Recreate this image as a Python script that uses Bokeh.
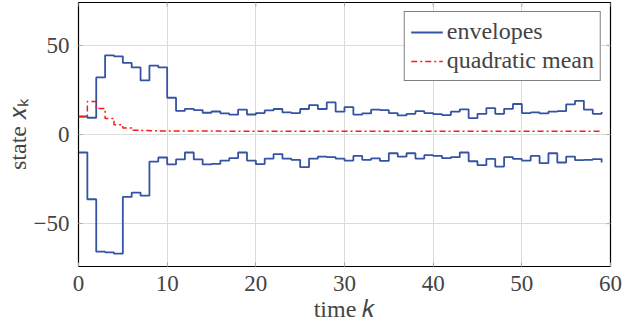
import math
from bokeh.plotting import figure
from bokeh.models import Range1d, FixedTicker, Legend, LegendItem, Title
from bokeh.embed import file_html
from bokeh.resources import INLINE

time_k = list(range(60))
upper = [10.1, 9.4, 32.0, 44.4, 43.8, 40.1, 37.6, 30.3, 38.6, 37.6,
         20.6, 13.3, 14.4, 13.7, 12.2, 12.9, 11.8, 11.1, 13.9, 11.2,
         12.0, 13.5, 14.3, 12.4, 12.0, 14.3, 16.5, 14.3, 18.0, 12.8,
         15.4, 11.1, 11.8, 13.9, 13.7, 12.0, 10.7, 11.6, 13.1, 12.0,
         11.4, 10.9, 12.8, 14.1, 9.2, 11.6, 14.8, 11.6, 14.4, 17.1,
         12.0, 12.4, 11.8, 12.8, 13.1, 16.9, 18.9, 13.9, 11.6, 12.6]
lower = [-10.1, -36.3, -65.7, -66.1, -66.8, -35.0, -32.6, -34.3, -15.2, -12.9,
         -16.8, -14.0, -10.1, -14.0, -16.8, -16.5, -14.6, -13.3, -10.1, -14.6,
         -16.6, -13.5, -11.0, -13.5, -14.2, -18.3, -13.5, -12.4, -12.7, -13.5,
         -14.6, -12.0, -14.2, -13.4, -14.8, -10.5, -12.4, -10.5, -13.5, -11.6,
         -12.0, -13.3, -12.7, -10.1, -15.0, -17.2, -13.7, -18.0, -12.7, -13.7,
         -14.6, -12.0, -16.1, -10.5, -15.7, -12.4, -14.4, -14.2, -13.8, -15.7]
quad_mean = [10.0, 18.5, 14.6, 9.0, 5.5, 3.6, 2.4, 2.2, 2.1, 2.0,
             1.9, 1.9, 1.9, 1.9, 1.9, 1.9, 1.8, 1.8, 1.8, 1.8,
             1.8, 1.8, 1.8, 1.8, 1.8, 1.8, 1.8, 1.8, 1.8, 1.8,
             1.8, 1.8, 1.8, 1.8, 1.8, 1.8, 1.8, 1.8, 1.8, 1.8,
             1.8, 1.8, 1.8, 1.8, 1.8, 1.8, 1.8, 1.8, 1.8, 1.8,
             1.8, 1.8, 1.8, 1.8, 1.8, 1.8, 1.8, 1.8, 1.8, 1.8]
x_ticks = [0, 10, 20, 30, 40, 50, 60]
y_ticks = [-50, 0, 50]
y_tick_labels = {-50: "\u221250", 0: "0", 50: "50"}
x_title = "time \U0001D458"
y_title = "state \U0001D465\u2096"
X_MIN, X_MAX, Y_MIN, Y_MAX = 0, 60, -74, 74

SERIF = "Liberation Serif"
BLUE = "#3552a3"
RED = "#ff1a1a"
TICK = "#aaaaaa"

p = figure(width=623, height=328, output_backend="svg", toolbar_location=None,
           x_range=Range1d(X_MIN, X_MAX), y_range=Range1d(Y_MIN, Y_MAX),
           min_border_left=78, min_border_right=13, min_border_top=2, min_border_bottom=62)
p.outline_line_color = "black"
p.outline_line_width = 1.2

p.xaxis.ticker = FixedTicker(ticks=x_ticks)
p.yaxis.ticker = FixedTicker(ticks=y_ticks)
p.yaxis.major_label_overrides = y_tick_labels
p.xaxis.major_label_text_font = SERIF
p.yaxis.major_label_text_font = SERIF
p.xaxis.major_label_text_font_size = "23px"
p.yaxis.major_label_text_font_size = "23px"
p.xaxis.major_label_standoff = 9
p.yaxis.major_label_standoff = 9
p.xaxis.axis_line_color = None
p.yaxis.axis_line_color = None
p.xaxis.major_tick_in = 4
p.yaxis.major_tick_in = 4
p.xaxis.major_tick_out = 0
p.yaxis.major_tick_out = 0
p.xaxis.major_tick_line_color = TICK
p.yaxis.major_tick_line_color = TICK
p.xaxis.minor_tick_line_color = None
p.yaxis.minor_tick_line_color = None

# axis titles as Title annotations in the side panels
p.add_layout(Title(text=x_title, text_font=SERIF, text_font_size="24px",
                   text_font_style="normal", align="center", standoff=0), "below")
p.add_layout(Title(text=y_title, text_font=SERIF, text_font_size="24px",
                   text_font_style="normal", align="center", standoff=0), "left")

p.xgrid.ticker = FixedTicker(ticks=x_ticks)
p.ygrid.ticker = FixedTicker(ticks=y_ticks)
p.grid.grid_line_color = "#dcdcdc"

# mirrored inward ticks on top and right edges
p.ray(x=x_ticks, y=[Y_MAX] * len(x_ticks), length=4, length_units="screen",
      angle=-math.pi / 2, line_color=TICK, line_width=1)
p.ray(x=[X_MAX] * len(y_ticks), y=y_ticks, length=4, length_units="screen",
      angle=math.pi, line_color=TICK, line_width=1)

r_up = p.step(time_k, upper, mode="after", line_color=BLUE, line_width=1.8)
r_lo = p.step(time_k, lower, mode="after", line_color=BLUE, line_width=1.8)
r_q = p.step(time_k, quad_mean, mode="after", line_color=RED, line_width=1.5,
             line_dash="6 3 2 3")

legend = Legend(items=[LegendItem(label="envelopes", renderers=[r_up]),
                       LegendItem(label="quadratic mean", renderers=[r_q])],
                location="top_right")
legend.label_text_font = SERIF
legend.label_text_font_size = "24px"
legend.border_line_color = "black"
legend.glyph_width = 32
legend.glyph_height = 20
legend.label_standoff = 4
legend.padding = 6
legend.spacing = 2
legend.margin = 9
p.add_layout(legend)

open("out.html", "w").write(file_html(p, INLINE))
